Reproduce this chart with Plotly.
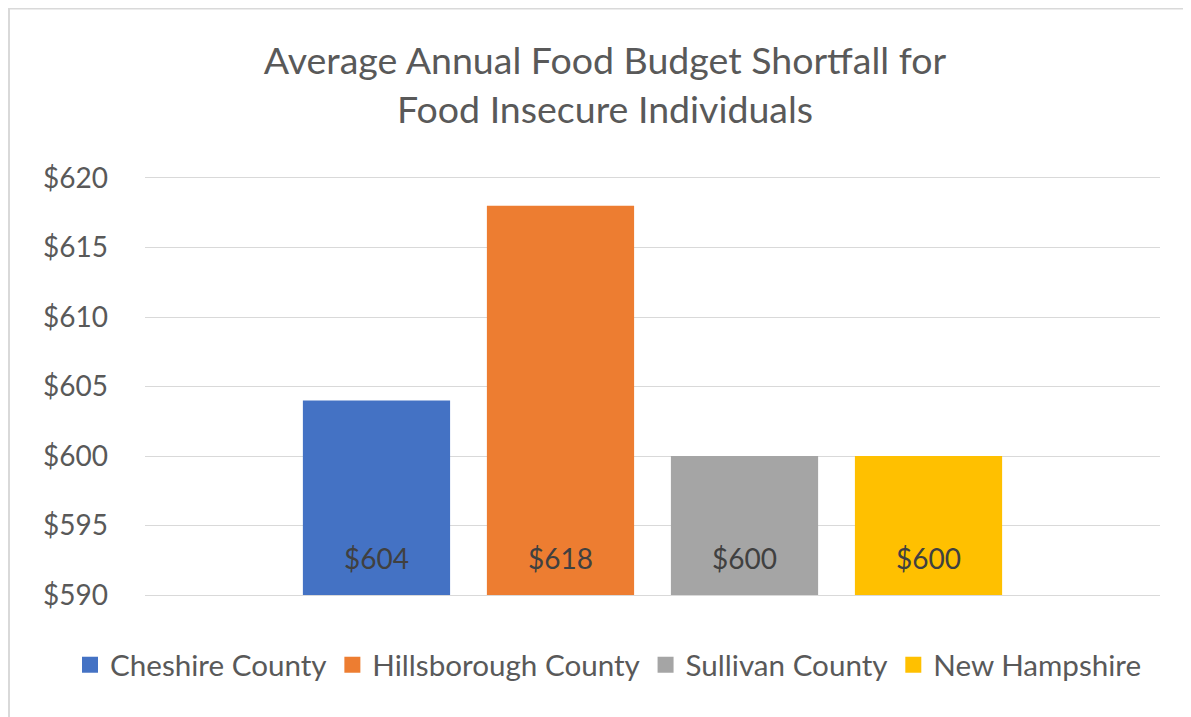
import plotly.graph_objects as go

series = ["Cheshire County", "Hillsborough County", "Sullivan County", "New Hampshire"]
values = [604, 618, 600, 600]
colors = ["#4472C4", "#ED7D31", "#A5A5A5", "#FFC000"]
y_ticks = [590, 595, 600, 605, 610, 615, 620]
y_ticklabels = ["$" + str(v) for v in y_ticks]
title_text = "Average Annual Food Budget Shortfall for<br>Food Insecure Individuals"

FONT = "Lato, 'Open Sans', sans-serif"

# page body has an 8px default offset; figure sized to fit the window
W, H = 1183, 709
L, R, T, B = 137, 31, 170, 122
pw, ph = W - L - R, H - T - B

fig = go.Figure()
for name, val, col in zip(series, values, colors):
    fig.add_trace(go.Bar(
        x=[name], y=[val], name=name, showlegend=False,
        marker=dict(color=col, line=dict(width=0)),
        hoverinfo="skip",
    ))
    fig.add_annotation(
        x=name, y=y_ticks[0], xref="x", yref="y",
        text="$" + str(val), showarrow=False,
        yanchor="bottom", yshift=18,
        font=dict(family=FONT, size=28, color="#404040"),
    )
# legend proxies with larger square swatches
for name, col in zip(series, colors):
    fig.add_trace(go.Scatter(
        x=[None], y=[None], mode="markers", name=name,
        marker=dict(symbol="square", size=16, color=col),
        hoverinfo="skip",
    ))

# chart-area border (light gray), extending past right/bottom edge as in reference
fig.add_shape(type="rect", xref="paper", yref="paper",
              x0=(1 - L) / pw, x1=1.3, y0=-0.6, y1=(H - B - 0.5) / ph,
              line=dict(color="#d9d9d9", width=2), fillcolor="rgba(0,0,0,0)",
              layer="below")

fig.update_layout(
    width=W, height=H,
    margin=dict(l=L, r=R, t=T, b=B, autoexpand=False),
    paper_bgcolor="white", plot_bgcolor="white",
    barmode="overlay", bargap=0.2,
    title=dict(text=title_text, x=(605 - 8) / W, xanchor="center", xref="container",
               y=1 - 66 / H, yanchor="middle",
               font=dict(family=FONT, size=37.5, color="#595959")),
    font=dict(family=FONT, color="#595959"),
    xaxis=dict(range=[-1.258, 4.258], showticklabels=False, showgrid=False,
               zeroline=False, showline=True, linecolor="#d9d9d9", linewidth=1,
               mirror=True, ticks=""),
    yaxis=dict(range=[590, 620], tickvals=y_ticks, ticktext=y_ticklabels,
               showgrid=True, gridcolor="#d9d9d9", gridwidth=1,
               zeroline=False, showline=False, ticks="",
               tickfont=dict(family=FONT, size=28, color="#595959"),
               ticklabelstandoff=36),
    legend=dict(orientation="h", x=(62 - L) / pw, xanchor="left",
                y=-70 / ph, yanchor="middle",
                font=dict(family=FONT, size=29.6, color="#595959"),
                itemwidth=30, tracegroupgap=0, itemsizing="trace"),
    showlegend=True,
)

fig.write_html("out.html")
